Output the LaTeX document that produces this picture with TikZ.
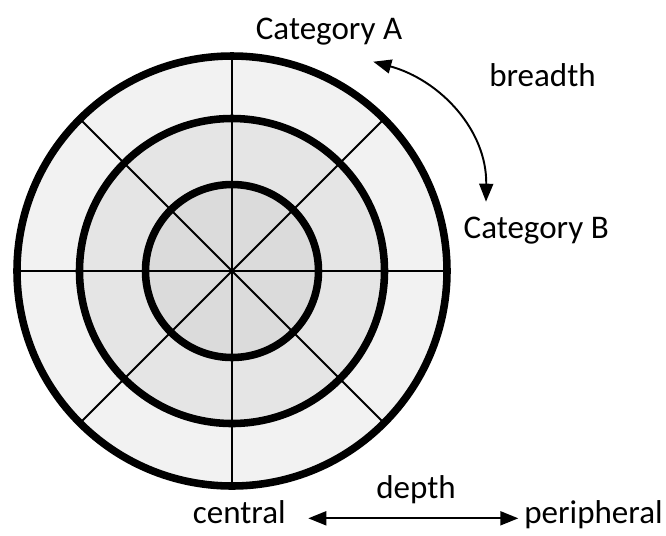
\documentclass[tikz,border=0pt]{standalone}
\usepackage{fontspec}
\setmainfont{Carlito}
\usepackage{tikz}
\usetikzlibrary{arrows.meta}
\usetikzlibrary{positioning}

\begin{document}
\begin{tikzpicture}[
        >={Triangle[length=3.6mm,width=2.8mm]},
        every node/.style={font=\fontsize{18.8pt}{22pt}\selectfont, anchor=base, inner sep=0pt},
        ring/.style={draw=black, line width=4.3pt},
        spoke/.style={draw=black, line width=1.1pt},
        pointer/.style={draw=black, line width=1.1pt, <->}
    ]

    \useasboundingbox (-4.64,-5.28) rectangle (8.68,5.42);

    \coordinate (O) at (0,0);

    \fill[black!5]  (O) circle (4.30);
    \fill[black!10] (O) circle (3.05);
    \fill[black!14] (O) circle (1.73);

    \foreach \a in {0,45,90,135}
        \draw[spoke] (\a:4.30) -- (\a+180:4.30);

    \draw[ring] (O) circle (4.30);
    \draw[ring] (O) circle (3.05);
    \draw[ring] (O) circle (1.73);

    \node (catA) at (1.94,4.634) {Category A};
    \node (catB) at (6.084,0.66) {Category B};
    \node (breadth) at (6.21,3.70) {breadth};

    \node (depth) at (3.68,-4.546) {depth};
    \node (central) at (0.146,-5.046) {central};
    \node (peripheral) at (7.23,-5.04) {peripheral};

    \coordinate (BA) at (2.826,4.186);
    \coordinate (BB) at (5.08,1.386);
    \coordinate (DL) at (1.526,-4.946);
    \coordinate (DR) at (5.726,-4.946);

    \draw[pointer] (BA) .. controls (4.16,3.82) and (5.10,2.82) .. (BB);
    \draw[pointer] (DL) -- (DR);

\end{tikzpicture}
\end{document}
